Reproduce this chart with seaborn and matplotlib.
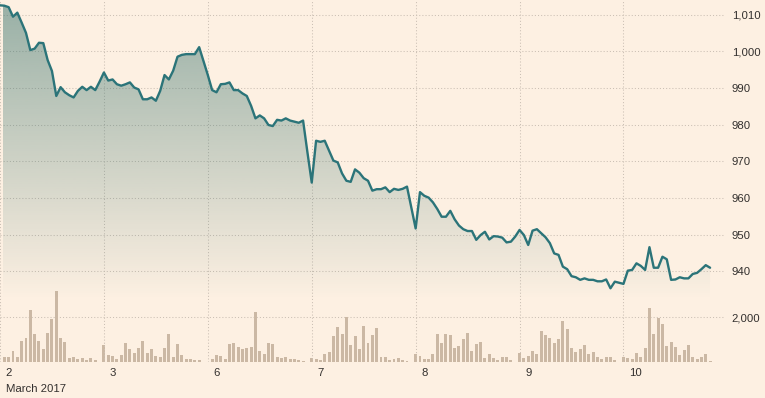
import numpy as np
import pandas as pd
import matplotlib
matplotlib.use("Agg")
import matplotlib.pyplot as plt
import matplotlib.transforms as mtransforms
from matplotlib.patches import Polygon
from matplotlib.colors import to_rgb
from matplotlib.ticker import FuncFormatter
import seaborn as sns

# ---------------- data ----------------
day_labels = ["2", "3", "6", "7", "8", "9", "10"]
month_label = "March 2017"

price_d02 = [1012.5, 1012.4, 1012.0, 1009.4, 1010.5, 1007.8, 1005.0, 1000.3, 1000.7, 1002.3,
             1002.2, 997.6, 994.6, 987.8, 990.2, 988.8, 988.0, 987.4, 989.2, 990.3,
             989.4, 990.3, 989.4, 991.7]
price_d03 = [994.2, 992.0, 992.3, 991.0, 990.6, 991.0, 991.5, 990.1, 989.6, 986.9,
             986.9, 987.4, 986.5, 989.2, 993.5, 992.3, 994.7, 998.5, 999.0, 999.2,
             999.2, 999.2, 1001.1, 997.3]
price_d06 = [993.5, 989.4, 988.8, 991.0, 991.1, 991.5, 989.4, 989.4, 988.5, 987.8,
             985.1, 981.7, 982.5, 981.7, 979.9, 979.6, 981.3, 981.1, 981.7, 981.1,
             980.8, 980.5, 981.1, 972.5]
price_d07 = [964.2, 975.6, 975.3, 975.6, 972.9, 970.2, 969.7, 966.7, 964.7, 964.4,
             967.8, 966.9, 965.4, 964.7, 962.0, 962.4, 962.4, 962.9, 961.6, 962.5,
             962.2, 962.5, 963.1, 957.4]
price_d08 = [951.7, 961.6, 960.6, 960.1, 958.8, 957.0, 954.9, 954.9, 956.5, 954.2,
             952.5, 951.5, 951.0, 951.0, 948.6, 949.9, 950.8, 948.7, 949.6, 949.5,
             949.2, 947.9, 948.1, 949.5]
price_d09 = [951.3, 949.9, 947.2, 951.1, 951.5, 950.4, 949.3, 947.7, 944.9, 944.5,
             941.3, 940.6, 938.7, 938.4, 937.7, 938.1, 937.7, 937.7, 937.3, 937.3,
             937.8, 935.4, 937.2, 936.9]
price_d10 = [936.6, 940.2, 940.4, 942.2, 941.5, 940.4, 946.6, 941.0, 941.0, 944.0,
             943.3, 937.7, 937.8, 938.4, 938.1, 938.1, 939.3, 939.6, 940.6, 941.7,
             941.0]

vol_d02 = [0, 210, 210, 480, 210, 930, 1070, 2330, 1250, 930, 570, 1290, 1930, 3190,
           1070, 890, 170, 210, 120, 170, 75, 170, 75, 0]
vol_d03 = [750, 300, 255, 120, 300, 840, 570, 390, 615, 930, 390, 570, 255, 210, 615,
           1250, 210, 795, 300, 120, 120, 75, 75, 0]
vol_d06 = [0, 120, 300, 255, 120, 795, 840, 660, 570, 615, 660, 2240, 480, 345, 840,
           795, 210, 170, 210, 120, 120, 75, 40, 0]
vol_d07 = [170, 120, 75, 345, 435, 1160, 1570, 1250, 2020, 750, 1160, 570, 1610, 840,
           1200, 1520, 210, 210, 75, 120, 170, 75, 45, 0]
vol_d08 = [345, 255, 120, 120, 345, 1250, 840, 1250, 1200, 615, 705, 1020, 1290, 480,
           795, 885, 170, 345, 170, 75, 210, 210, 75, 0]
vol_d09 = [390, 170, 255, 480, 345, 1385, 1200, 1070, 840, 1020, 1835, 1475, 615, 435,
           570, 750, 345, 435, 210, 120, 210, 210, 75, 0]
vol_d10 = [210, 170, 120, 390, 210, 615, 2420, 1250, 1985, 1700, 705, 885, 660, 300,
           525, 750, 210, 120, 210, 345, 45]

price_ticks = [940, 950, 960, 970, 980, 990, 1000, 1010]
volume_ticks = [2000]

price_days = [price_d02, price_d03, price_d06, price_d07, price_d08, price_d09, price_d10]
vol_days = [vol_d02, vol_d03, vol_d06, vol_d07, vol_d08, vol_d09, vol_d10]
PER_DAY = 24

rows = []
for d, (p, v) in enumerate(zip(price_days, vol_days)):
    for k, (pp, vv) in enumerate(zip(p, v)):
        rows.append((d * PER_DAY + k, pp, vv))
df = pd.DataFrame(rows, columns=["t", "price", "volume"])
day_starts = [d * PER_DAY for d in range(len(day_labels))]

# ---------------- style ----------------
BG = "#fdf0e2"
LINE = "#2b7479"
FILL = "#3d7670"
BAR = "#cbb8a4"
GRID = "#cbc0b4"
TEXT = "#33302e"

sns.set_theme(style="white")
plt.rcParams["font.family"] = ["Liberation Sans", "DejaVu Sans"]
plt.rcParams["axes.facecolor"] = BG
plt.rcParams["figure.facecolor"] = BG

W, H = 765, 398
fig = plt.figure(figsize=(W / 100, H / 100), dpi=100)
fig.patch.set_facecolor(BG)

px_per_t = 104.4 / PER_DAY
base_px = 361.7          # volume baseline from top
plot_w_px = 725
px_per_unit = 3.67       # price px per unit
px_per_vol = 44.4 / 2000

rect = [0, 1 - base_px / H, plot_w_px / W, base_px / H]
axv = fig.add_axes(rect)
ax = fig.add_axes(rect, sharex=axv)
axv.set_zorder(0)
ax.set_zorder(1)
axv.set_facecolor(BG)
ax.set_facecolor("none")

x0 = 3.4 / px_per_t
x1 = (plot_w_px + 3.4) / px_per_t
ytop = 1010 + 14.5 / px_per_unit
ybot = ytop - base_px / px_per_unit

# volume bars
axv.bar(df["t"], df["volume"], width=0.68, color=BAR, linewidth=0, zorder=2)
axv.set_ylim(0, base_px / px_per_vol)

# gradient fill under price line
fade_val = 1010 - (300 - 14.5) / px_per_unit
n = 256
img = np.zeros((n, 1, 4))
img[..., :3] = to_rgb(FILL)
img[..., 3] = np.linspace(0.53, 0.0, n)[:, None]
im = ax.imshow(img, extent=[x0, x1, fade_val, ytop], origin="upper",
               aspect="auto", zorder=1, interpolation="bilinear")
verts = [(df["t"].iloc[0], fade_val)] + list(zip(df["t"], df["price"])) + \
        [(df["t"].iloc[-1], fade_val)]
poly = Polygon(verts, closed=True, facecolor="none", edgecolor="none",
               transform=ax.transData)
ax.add_patch(poly)
im.set_clip_path(poly)

# price line
sns.lineplot(data=df, x="t", y="price", ax=ax, color=LINE, linewidth=1.7,
             zorder=3, legend=False)

ax.set_xlim(x0, x1)
ax.set_ylim(ybot, ytop)

fmt = FuncFormatter(lambda v, p: f"{v:,.0f}")
ax.yaxis.tick_right()
ax.set_yticks(price_ticks)
ax.yaxis.set_major_formatter(fmt)
axv.yaxis.tick_right()
axv.set_yticks(volume_ticks)
axv.yaxis.set_major_formatter(fmt)
for a in (ax, axv):
    a.tick_params(axis="y", length=0, pad=4.8, labelsize=8.2, labelcolor=TEXT)
    a.set_xlabel("")
    a.set_ylabel("")
    for s in a.spines.values():
        s.set_visible(False)

ax.set_xticks(day_starts)
ax.tick_params(axis="x", direction="out", length=4, width=0.8, color=GRID,
               labelbottom=False)
axv.tick_params(axis="x", bottom=False, labelbottom=False)

dots = (0, (1, 2))
ax.grid(True, axis="both", linestyle=dots, color=GRID, linewidth=0.75, zorder=0)
axv.grid(True, axis="y", linestyle=dots, color=GRID, linewidth=0.75)
axv.grid(False, axis="x")
ax.set_axisbelow(True)

# day labels
trans = mtransforms.blended_transform_factory(ax.transData, fig.transFigure)
trans = mtransforms.offset_copy(trans, fig=fig, x=5.8 * 0.72, y=0, units="points")
for d, lab in zip(day_starts, day_labels):
    ax.text(d, 1 - 373 / H, lab, transform=trans, ha="left", va="center",
            fontsize=8.2, color=TEXT, clip_on=False)
ax.text(day_starts[0], 1 - 388.5 / H, month_label, transform=trans, ha="left",
        va="center", fontsize=8.2, color=TEXT, clip_on=False)

fig.savefig("out.png", dpi=100, facecolor=BG)
